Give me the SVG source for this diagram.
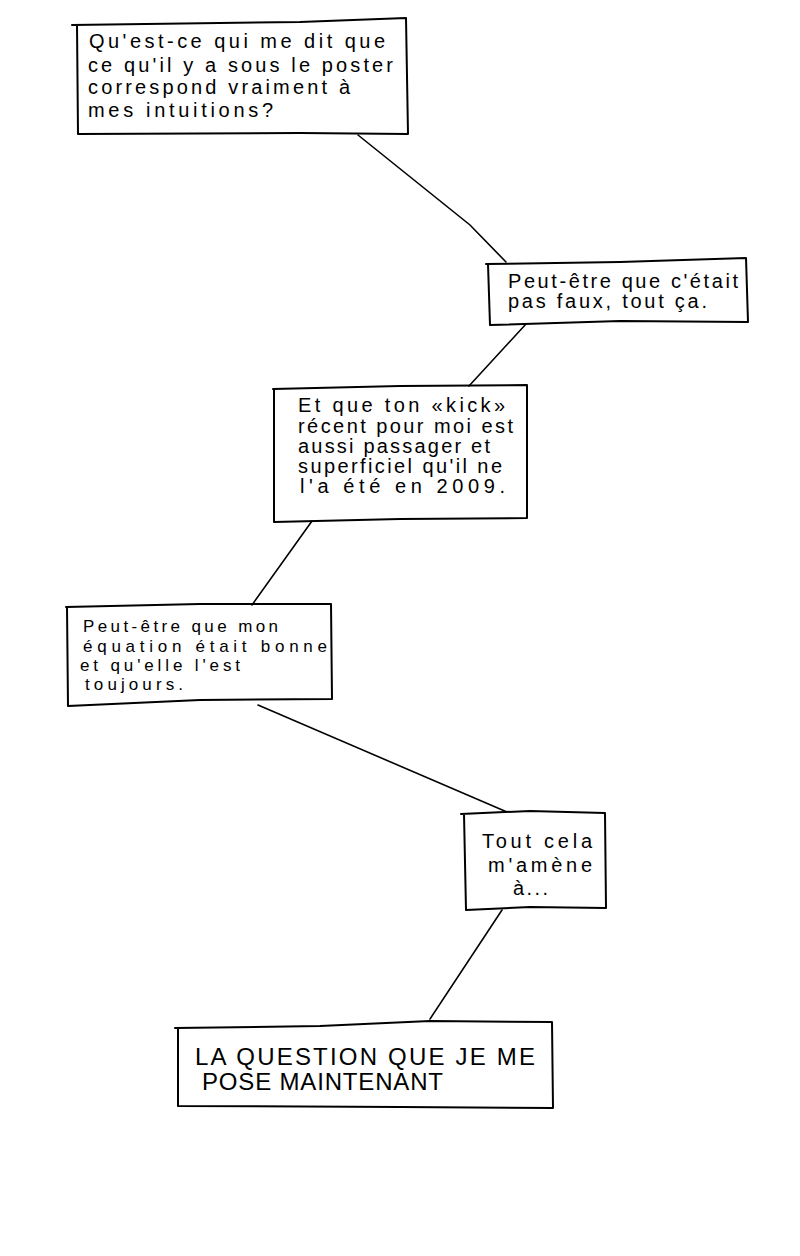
<svg xmlns="http://www.w3.org/2000/svg" width="800" height="1256" viewBox="0 0 800 1256">
<style>
.box{fill:none;stroke:#000;stroke-width:2;stroke-linejoin:round;stroke-linecap:round}
.wire{fill:none;stroke:#000;stroke-width:1.6;stroke-linecap:round}
.t{font-family:"Liberation Sans","DejaVu Sans",sans-serif;font-size:20px;fill:#000}
.s{font-family:"Liberation Sans","DejaVu Sans",sans-serif;font-size:17px;fill:#000}
.c{font-family:"Liberation Sans","DejaVu Sans",sans-serif;font-size:24px;fill:#000}
</style>
<rect width="800" height="1256" fill="#fff"/>
<g id="connectors">
<path class="wire" d="M358,135 L470,225 L506,262"/>
<path class="wire" d="M526,324 L469,386"/>
<path class="wire" d="M312,521 L252,605"/>
<path class="wire" d="M258,705 L507,812"/>
<path class="wire" d="M502,910 L430,1019"/>
</g>
<g id="node1">
<path class="box" d="M72,25 L300,22 L406,18 L408,134 L300,133 L78,134 L77,25"/>
<text class="t" x="89" y="48" textLength="296" lengthAdjust="spacing">Qu'est-ce qui me dit que</text>
<text class="t" x="88" y="72" textLength="305" lengthAdjust="spacing">ce qu'il y a sous le poster</text>
<text class="t" x="88" y="94" textLength="262" lengthAdjust="spacing">correspond vraiment à</text>
<text class="t" x="88" y="117" textLength="185" lengthAdjust="spacing">mes intuitions?</text>
</g>
<g id="node2">
<path class="box" d="M486,264 L620,262 L746,258 L748,322 L620,321 L490,325 L488,264"/>
<text class="t" x="508" y="288" textLength="230" lengthAdjust="spacing">Peut-être que c'était</text>
<text class="t" x="508" y="308" textLength="199" lengthAdjust="spacing">pas faux, tout ça.</text>
</g>
<g id="node3">
<path class="box" d="M273,389 L400,386 L527,385 L527,518 L400,519 L274,522 L274,389"/>
<text class="t" x="298" y="412" textLength="207" lengthAdjust="spacing">Et que ton «kick»</text>
<text class="t" x="298" y="433" textLength="215" lengthAdjust="spacing">récent pour moi est</text>
<text class="t" x="298" y="453" textLength="192" lengthAdjust="spacing">aussi passager et</text>
<text class="t" x="298" y="473" textLength="204" lengthAdjust="spacing">superficiel qu'il ne</text>
<text class="t" x="300" y="493" textLength="205" lengthAdjust="spacing">l'a été en 2009.</text>
</g>
<g id="node4">
<path class="box" d="M66,607 L200,604 L331,604 L332,699 L200,700 L68,706 L67,607"/>
<text class="s" x="83" y="632" textLength="195" lengthAdjust="spacing">Peut-être que mon</text>
<text class="s" x="83" y="652" textLength="244" lengthAdjust="spacing">équation était bonne</text>
<text class="s" x="80" y="671" textLength="160" lengthAdjust="spacing">et qu'elle l'est</text>
<text class="s" x="85" y="690" textLength="98" lengthAdjust="spacing">toujours.</text>
</g>
<g id="node5">
<path class="box" d="M461,814 L530,811 L605,813 L606,908 L530,907 L466,910 L464,814"/>
<text class="t" x="482" y="848" textLength="110" lengthAdjust="spacing">Tout cela</text>
<text class="t" x="488" y="872" textLength="104" lengthAdjust="spacing">m'amène</text>
<text class="t" x="513" y="895" textLength="35" lengthAdjust="spacing">à...</text>
</g>
<g id="node6">
<path class="box" d="M175,1028 L320,1026 L430,1021 L552,1022 L553,1108 L400,1107 L178,1106 L178,1028"/>
<text class="c" x="195" y="1065" textLength="340" lengthAdjust="spacing">LA QUESTION QUE JE ME</text>
<text class="c" x="202" y="1090" textLength="241" lengthAdjust="spacing">POSE MAINTENANT</text>
</g>
</svg>
